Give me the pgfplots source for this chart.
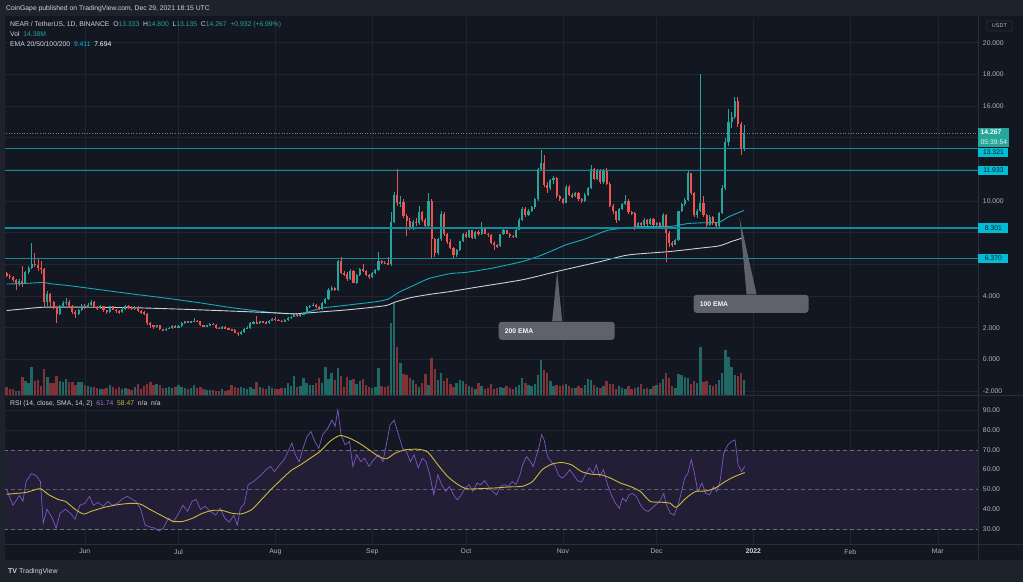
\documentclass[border=0pt]{standalone}
\usepackage{pgfplots}
\pgfplotsset{compat=1.18}
\usepackage{pgfplotstable}
\usepackage{fontspec}
\setmainfont{Liberation Sans}
\definecolor{outer}{RGB}{30,34,45}
\definecolor{pane}{RGB}{19,23,34}
\definecolor{gridc}{RGB}{33,37,48}
\definecolor{sepc}{RGB}{42,46,57}
\definecolor{txt}{RGB}{178,181,190}
\definecolor{lbl}{RGB}{209,212,220}
\definecolor{up}{RGB}{38,166,154}
\definecolor{dn}{RGB}{239,83,80}
\definecolor{vup}{RGB}{32,104,99}
\definecolor{vdn}{RGB}{128,50,54}
\definecolor{lvl}{RGB}{16,140,156}
\definecolor{lvlbox}{RGB}{0,188,212}
\definecolor{emaA}{RGB}{20,170,186}
\definecolor{emaB}{RGB}{205,208,215}
\definecolor{rsic}{RGB}{126,87,194}
\definecolor{smac}{RGB}{205,185,60}
\definecolor{band}{RGB}{34,30,54}
\definecolor{dashc}{RGB}{106,109,120}
\definecolor{callout}{RGB}{100,103,114}
\newcommand{\f}{\fontsize{6.8}{8}\selectfont}

\pgfplotstableread{
i O H L C V
0 5.45 5.55 5.20 5.30 8
1 5.30 5.40 5.10 5.20 6
2 5.20 5.25 4.90 5.00 6
3 5.00 5.10 4.40 4.75 4
4 4.75 5.05 4.65 4.95 4
5 4.95 5.90 4.60 4.80 18
6 4.80 5.60 4.75 5.50 14
7 5.50 5.90 5.40 5.75 12
8 5.75 7.35 5.70 6.05 28
9 6.05 6.70 5.85 5.95 14
10 5.95 6.40 5.60 5.80 15
11 5.80 6.20 5.40 5.70 9
12 5.70 5.75 3.30 3.60 26
13 3.60 4.30 3.40 4.15 18
14 4.15 4.20 3.30 3.60 12
15 3.60 3.70 3.20 3.30 12
16 3.30 3.40 2.30 2.90 19
17 2.90 3.45 2.80 3.35 14
18 3.35 3.70 3.25 3.55 13
19 3.55 3.90 3.45 3.65 16
20 3.65 3.75 3.30 3.40 13
21 3.40 3.45 2.90 3.00 13
22 3.00 3.10 2.60 2.85 10
23 2.85 3.20 2.80 3.10 13
24 3.10 3.50 3.05 3.40 13
25 3.40 3.50 3.20 3.35 10
26 3.35 3.55 3.25 3.45 9
27 3.45 3.75 3.40 3.65 8
28 3.65 3.70 3.25 3.30 8
29 3.30 3.40 3.15 3.25 7
30 3.25 3.45 3.20 3.35 6
31 3.35 3.40 3.00 3.10 6
32 3.10 3.15 2.85 3.00 7
33 3.00 3.40 2.95 3.35 10
34 3.35 3.40 3.10 3.15 8
35 3.15 3.20 2.95 3.05 6
36 3.05 3.10 2.90 3.00 8
37 3.00 3.30 2.95 3.20 6
38 3.20 3.45 3.15 3.35 7
39 3.35 3.45 3.20 3.30 6
40 3.30 3.35 3.10 3.20 5
41 3.20 3.35 3.10 3.30 8
42 3.30 3.35 3.00 3.05 11
43 3.05 3.10 2.90 3.00 6
44 3.00 3.05 2.80 2.90 9
45 2.90 2.95 2.20 2.30 11
46 2.30 2.35 2.00 2.15 13
47 2.15 2.20 1.95 2.05 10
48 2.05 2.20 2.00 2.15 11
49 2.15 2.20 1.85 1.90 10
50 1.90 1.95 1.80 1.85 7
51 1.85 2.00 1.80 1.95 7
52 1.95 2.05 1.90 2.00 8
53 2.00 2.15 1.95 2.10 7
54 2.10 2.15 2.00 2.05 8
55 2.05 2.15 2.00 2.10 10
56 2.10 2.35 2.05 2.30 8
57 2.30 2.45 2.25 2.40 7
58 2.40 2.45 2.30 2.35 6
59 2.35 2.45 2.30 2.40 7
60 2.40 2.60 2.35 2.45 10
61 2.45 2.50 2.35 2.40 7
62 2.40 2.45 2.10 2.15 8
63 2.15 2.20 2.05 2.10 6
64 2.10 2.20 2.05 2.15 5
65 2.15 2.30 2.10 2.25 5
66 2.25 2.30 2.15 2.20 5
67 2.20 2.25 1.95 2.00 4
68 2.00 2.05 1.90 1.95 4
69 1.95 2.10 1.90 2.05 6
70 2.05 2.10 1.90 1.95 4
71 1.95 2.00 1.85 1.90 5
72 1.90 1.95 1.80 1.85 10
73 1.85 1.90 1.65 1.70 8
74 1.70 1.75 1.50 1.60 7
75 1.60 1.80 1.55 1.75 8
76 1.75 2.00 1.70 1.95 7
77 1.95 2.10 1.90 2.00 6
78 2.00 2.35 1.95 2.30 8
79 2.30 2.40 2.25 2.35 6
80 2.35 2.75 2.25 2.30 13
81 2.30 2.45 2.25 2.40 8
82 2.40 2.45 2.30 2.35 7
83 2.35 2.40 2.25 2.30 6
84 2.30 2.50 2.25 2.45 9
85 2.45 2.60 2.40 2.55 7
86 2.55 2.65 2.45 2.50 6
87 2.50 2.55 2.40 2.45 6
88 2.45 2.50 2.35 2.40 7
89 2.40 2.55 2.35 2.50 7
90 2.50 2.65 2.45 2.60 12
91 2.60 2.75 2.55 2.70 9
92 2.70 2.95 2.65 2.90 19
93 2.90 2.95 2.70 2.75 8
94 2.75 2.90 2.70 2.85 9
95 2.85 3.00 2.80 2.95 17
96 2.95 3.35 2.90 3.30 12
97 3.30 3.45 3.25 3.40 10
98 3.40 3.55 3.35 3.45 10
99 3.45 3.50 3.25 3.30 12
100 3.30 3.35 3.10 3.20 17
101 3.20 3.60 3.15 3.55 12
102 3.55 3.90 3.50 3.80 28
103 3.80 4.50 3.75 4.40 16
104 4.40 4.65 4.30 4.50 22
105 4.50 4.60 4.30 4.40 15
106 4.40 6.30 4.35 6.20 27
107 6.20 6.50 5.40 5.45 19
108 5.45 5.60 5.30 5.40 8
109 5.40 5.50 4.95 5.05 18
110 5.05 5.70 5.00 5.60 15
111 5.60 5.65 4.80 4.85 16
112 4.85 5.40 4.75 5.35 11
113 5.35 5.80 5.30 5.70 14
114 5.70 6.00 5.50 5.60 16
115 5.60 5.65 5.30 5.35 10
116 5.35 5.40 5.10 5.20 8
117 5.20 5.50 5.15 5.45 7
118 5.45 5.70 5.40 5.65 8
119 5.65 6.80 5.60 6.20 27
120 6.20 6.30 6.00 6.10 9
121 6.10 6.20 6.00 6.05 8
122 6.08 6.45 5.95 6.03 9
123 6.03 9.30 5.90 8.70 72
124 8.70 10.60 8.60 10.40 92
125 10.40 12.00 9.70 9.85 48
126 9.85 10.30 9.60 9.95 32
127 9.95 10.10 8.90 9.05 21
128 9.05 9.20 7.80 8.75 20
129 8.75 8.90 8.20 8.35 17
130 8.35 8.80 8.20 8.70 15
131 8.70 8.90 8.40 8.60 11
132 8.60 9.70 8.50 9.30 8
133 9.30 9.40 8.70 8.80 12
134 8.80 8.90 8.30 8.40 21
135 8.40 10.50 8.30 10.00 10
136 10.00 10.10 6.40 7.60 37
137 7.60 7.70 6.50 6.75 26
138 6.75 7.70 6.60 7.60 15
139 7.60 9.40 7.50 9.20 22
140 9.20 9.30 7.80 7.90 14
141 7.90 8.00 7.30 7.40 17
142 7.40 7.60 6.95 7.05 11
143 7.05 7.10 6.35 6.60 8
144 6.60 7.00 6.50 6.90 12
145 6.90 7.50 6.85 7.45 15
146 7.45 8.00 7.40 7.95 14
147 7.95 8.05 7.70 7.75 11
148 7.75 8.20 7.70 8.15 9
149 8.15 8.20 7.60 7.65 8
150 7.65 8.10 7.60 8.05 6
151 8.05 8.15 7.80 7.90 12
152 7.90 8.70 7.85 8.30 9
153 8.30 8.35 7.90 7.95 6
154 7.95 8.00 7.75 7.85 7
155 7.85 7.90 7.30 7.35 11
156 7.35 7.45 6.90 7.20 6
157 7.20 7.30 7.05 7.15 7
158 7.15 7.95 7.10 7.90 8
159 7.90 8.25 7.85 8.15 7
160 8.15 8.20 7.90 7.95 9
161 7.95 8.00 7.70 7.80 7
162 7.80 7.85 7.65 7.75 6
163 7.75 8.25 7.70 8.20 8
164 8.20 8.90 8.15 8.80 10
165 8.80 9.60 8.75 9.50 17
166 9.50 9.60 9.00 9.10 12
167 9.10 9.50 9.05 9.40 10
168 9.40 9.70 9.30 9.60 9
169 9.60 10.20 9.50 10.10 11
170 10.10 12.10 10.00 12.00 20
171 12.00 13.20 11.90 12.40 35
172 12.40 12.90 10.90 11.00 25
173 11.00 11.20 10.50 10.80 22
174 10.80 11.40 10.70 11.30 14
175 11.30 11.60 11.10 11.45 9
176 11.45 11.50 10.20 10.30 10
177 10.30 10.40 10.00 10.10 9
178 10.10 10.20 9.80 9.90 10
179 9.90 11.00 9.85 10.90 11
180 10.90 11.00 10.30 10.40 9
181 10.40 10.50 10.20 10.30 7
182 10.30 10.60 10.25 10.50 7
183 10.50 10.60 10.00 10.10 9
184 10.10 10.20 9.90 10.00 7
185 10.00 10.50 9.95 10.40 10
186 10.40 10.90 10.35 10.80 16
187 10.80 12.30 10.75 12.00 15
188 12.00 12.10 11.30 11.40 10
189 11.40 12.00 11.30 11.90 8
190 11.90 12.00 11.10 11.20 7
191 11.20 12.00 11.10 11.90 9
192 11.90 12.10 11.00 11.10 14
193 11.10 11.20 9.60 9.70 11
194 9.70 9.80 9.20 9.35 11
195 9.35 9.40 8.60 8.80 6
196 8.80 9.55 8.75 9.50 9
197 9.50 9.90 9.45 9.80 7
198 9.80 10.40 9.75 10.00 6
199 10.00 10.10 9.20 9.30 9
200 9.30 9.40 9.10 9.25 6
201 9.25 9.30 8.20 8.30 7
202 8.30 8.65 8.25 8.60 8
203 8.60 8.70 8.40 8.50 11
204 8.50 8.90 8.45 8.80 6
205 8.80 8.85 8.45 8.55 7
206 8.55 8.90 8.50 8.85 6
207 8.85 8.90 8.45 8.50 9
208 8.50 8.70 8.30 8.60 10
209 8.60 8.70 8.30 8.45 12
210 8.45 9.25 8.40 9.15 16
211 9.15 9.20 6.15 8.00 22
212 8.00 8.10 7.10 7.35 17
213 7.35 7.50 7.10 7.25 9
214 7.25 7.60 7.20 7.55 7
215 7.55 9.40 7.50 9.35 21
216 9.35 9.90 9.30 9.80 20
217 9.80 10.20 9.70 10.05 18
218 10.05 11.90 10.00 11.75 17
219 11.75 11.80 10.40 10.50 11
220 10.50 10.60 9.00 9.10 14
221 9.10 9.50 8.95 9.35 12
222 9.35 18.05 9.30 9.85 48
223 9.85 10.30 9.00 9.10 13
224 9.10 9.20 8.35 8.50 14
225 8.50 9.10 8.45 9.00 10
226 9.00 9.05 8.50 8.60 9
227 8.60 8.70 8.30 8.40 11
228 8.40 9.30 8.35 9.25 15
229 9.25 11.00 9.20 10.80 22
230 10.80 14.00 10.70 13.70 45
231 13.70 15.80 13.50 15.00 38
232 15.00 15.60 14.60 15.30 28
233 15.30 16.60 15.20 16.30 20
234 16.30 16.55 14.70 14.85 19
235 14.85 15.00 12.90 13.333 22
236 13.333 14.80 13.135 14.267 15
}\candles

\begin{document}
\begin{tikzpicture}[x=1pt,y=1pt]
\fill[outer] (0pt,0pt) rectangle (1024pt,582pt);
\fill[pane] (5pt,22pt) rectangle (1024pt,566pt);

\pgfplotsset{
  tvaxis/.style={
    scale only axis, anchor=south west, width=974pt,
    xmin=-0.54, xmax=311.0,
    axis line style={draw=none}, major tick length=0pt,
    xtick={25,55,86,117,147,178,208,239,270,298},
    grid=major, grid style={gridc, line width=0.6pt},
    yticklabel pos=right,
    yticklabel style={font=\f, text=txt, anchor=west, xshift=1pt},
    xticklabel style={font=\f, text=txt},
    /pgf/number format/assume math mode=true,
  },
  candle/.style 2 args={draw=none, mark=none,
    error bars/.cd, y dir=both, y explicit, error mark=none,
    error bar style={line width=#1, draw=#2, solid}},
}

% ---------- main price pane ----------
\begin{axis}[tvaxis, at={(5pt,187pt)}, height=377pt,
  ymin=-2.23, ymax=21.56,
  ytick={-2,0,2,4,6,8,10,12,14,16,18,20},
  yticklabels={-2.000,0.000,2.000,4.000,,,10.000,,,16.000,18.000,20.000},
  xticklabels={}]
% volume
\addplot[candle={2.4pt}{vup}] table[x=i,
  y expr={\thisrow{C}>=\thisrow{O} ? -2.23+\thisrow{V}/31.7 : nan},
  y error expr={\thisrow{V}/31.7}] {\candles};
\addplot[candle={2.4pt}{vdn}] table[x=i,
  y expr={\thisrow{C}<\thisrow{O} ? -2.23+\thisrow{V}/31.7 : nan},
  y error expr={\thisrow{V}/31.7}] {\candles};
% EMA lines
\addplot[emaA, line width=0.9pt, smooth, tension=0.4] coordinates {
(0,4.76) (6,4.80) (11.6,4.86) (14,4.78) (20,4.66) (30,4.40) (40,4.14) (51,3.87) (62,3.57) (72,3.27) (80,3.07) (86,2.94) (91,2.90) (95,2.92) (101,3.25) (106,3.36) (112,3.50) (118,3.64) (122,3.80) (124,4.05) (126,4.29) (130,4.65) (135,5.10) (142,5.42) (147,5.50) (155,5.75) (165,6.18) (170,6.50) (175,6.90) (179,7.24) (185,7.60) (190,7.99) (193,8.18) (198,8.30) (203,8.39) (212,8.39) (218,8.58) (223,8.63) (228,8.67) (231,9.00) (234,9.25) (236,9.41)};
\addplot[emaB, line width=0.9pt, smooth, tension=0.4] coordinates {
(0,3.09) (6,3.20) (12,3.30) (25,3.30) (40,3.27) (55,3.18) (70,3.07) (86,2.94) (92,2.88) (101,3.01) (110,3.15) (121,3.39) (124,3.60) (129,3.89) (135,4.10) (142,4.29) (150,4.55) (165,5.03) (176,5.55) (190,6.18) (199,6.60) (212,6.81) (222,7.03) (228,7.17) (232,7.45) (236,7.70)};
% wicks
\addplot[candle={0.7pt}{up}] table[x=i,
  y expr={\thisrow{C}>=\thisrow{O} ? (\thisrow{H}+\thisrow{L})/2 : nan},
  y error expr={(\thisrow{H}-\thisrow{L})/2}] {\candles};
\addplot[candle={0.7pt}{dn}] table[x=i,
  y expr={\thisrow{C}<\thisrow{O} ? (\thisrow{H}+\thisrow{L})/2 : nan},
  y error expr={(\thisrow{H}-\thisrow{L})/2}] {\candles};
% bodies
\addplot[candle={2.1pt}{up}] table[x=i,
  y expr={\thisrow{C}>=\thisrow{O} ? (\thisrow{O}+\thisrow{C})/2 : nan},
  y error expr={max(abs(\thisrow{C}-\thisrow{O})/2,0.03)}] {\candles};
\addplot[candle={2.1pt}{dn}] table[x=i,
  y expr={\thisrow{C}<\thisrow{O} ? (\thisrow{O}+\thisrow{C})/2 : nan},
  y error expr={max(abs(\thisrow{C}-\thisrow{O})/2,0.03)}] {\candles};
% horizontal levels
\addplot[lvl, line width=1.1pt] coordinates {(-1,13.321) (312,13.321)};
\addplot[lvl, line width=1.1pt] coordinates {(-1,11.933) (312,11.933)};
\addplot[lvl, line width=1.1pt] coordinates {(-1,8.301) (312,8.301)};
\addplot[lvl, line width=1.1pt] coordinates {(-1,6.370) (312,6.370)};
\addplot[up!70!gray, line width=0.6pt, dotted] coordinates {(-1,14.267) (312,14.267)};
\end{axis}

% ---------- RSI pane ----------
\begin{axis}[tvaxis, at={(5pt,37pt)}, height=148pt,
  ymin=22.13, ymax=96.77,
  ytick={30,40,50,60,70,80,90},
  yticklabels={30.00,40.00,50.00,60.00,70.00,80.00,90.00},
  xticklabels={Jun,Jul,Aug,Sep,Oct,Nov,Dec,\textcolor{lbl}{\textbf{2022}},Feb,Mar},
  xticklabel style={yshift=-1pt}]
\fill[band] (axis cs:-1,30) rectangle (axis cs:312,70);
\addplot[dashc, line width=0.6pt, dash pattern=on 4pt off 3pt] coordinates {(-1,70) (312,70)};
\addplot[dashc!85!pane, line width=0.6pt, dash pattern=on 4pt off 3pt] coordinates {(-1,50) (312,50)};
\addplot[dashc, line width=0.6pt, dash pattern=on 4pt off 3pt] coordinates {(-1,30) (312,30)};
\addplot[rsic, line width=0.7pt] coordinates {
(0,50) (2.0,42) (4.1,47) (5.2,44) (6.2,54) (7.9,58) (9.4,57) (10.8,54) (11.7,33) (12.9,40) (14.6,35.5) (15.8,30.5) (17.1,38) (18.8,40) (20.4,38) (21.9,35) (23.4,42) (25.0,43) (26.5,46.5) (27.8,42) (29.2,43.5) (30.9,41.5) (32.4,44) (33.8,42) (35.5,43) (37.2,45.5) (38.6,46.5) (39.7,45.5) (41.3,44) (42.8,40.5) (44.3,32) (46.0,31) (47.4,30.5) (48.7,29) (50.1,30.5) (51.8,35.5) (53.3,33.5) (54.7,37) (56.4,42) (57.9,39) (59.3,44) (60.6,45) (62.0,40) (63.5,41.5) (65.2,39) (66.9,37) (68.3,40.5) (69.8,35.5) (71.2,33.5) (72.7,37) (73.8,32) (74.8,40.5) (76.1,43) (77.3,52.5) (78.8,53.7) (80.2,55.7) (81.5,57.4) (83.0,60) (84.4,61.6) (85.7,59) (87.3,62.4) (88.8,65) (89.8,68.3) (91.3,73.4) (92.4,67.5) (93.6,64) (94.7,70) (96.1,76.7) (97.4,79.2) (98.6,74.2) (99.9,70.8) (101.1,77.6) (102.8,80.9) (104.1,85) (105.1,81.8) (106.0,90.2) (107.0,77.6) (108.3,72.5) (109.7,74.2) (110.8,61.6) (112.0,67.5) (113.3,64) (114.5,65.8) (116.0,61.6) (117.4,65) (119.1,67.5) (120.4,64) (121.6,73.4) (122.7,82.6) (124.0,85) (125.4,77.6) (126.7,70.8) (127.9,69.2) (129.2,64) (130.4,67.5) (131.7,60.8) (133.0,65.8) (134.2,64) (135.4,57.4) (136.7,47.3) (138.0,57.4) (139.2,52.4) (140.5,49) (141.7,51.5) (143.0,47.3) (144.2,44.8) (145.5,47.3) (146.7,50.7) (148.0,52.4) (149.2,49) (150.5,53.2) (151.7,52.4) (153.0,54.4) (154.2,51.5) (155.5,49) (156.8,47.3) (158.0,51.5) (159.3,52.4) (160.5,51.5) (161.8,54) (163.0,52.4) (164.3,57.4) (165.1,62.4) (166.4,66.6) (167.2,65) (168.5,61.6) (169.3,65.8) (170.4,71.7) (171.2,77.6) (172.0,75) (173.1,66.6) (174.3,64) (175.6,61.6) (176.6,57.4) (177.7,55.7) (179.0,57.4) (180.2,60) (181.4,57.4) (182.7,54.4) (184.0,53.7) (185.2,57.4) (186.4,60.8) (187.7,58.2) (188.7,62.4) (189.8,56.6) (191.0,60) (192.3,52.4) (193.5,47.3) (194.8,43.1) (196.1,40.5) (197.1,45.6) (198.2,44) (199.2,47.3) (200.2,48) (201.5,46.5) (202.8,42.3) (204.0,39.8) (205.3,38.9) (206.5,40.5) (207.8,42.3) (209.0,44) (210.3,48) (211.1,42.3) (212.4,38) (213.6,37) (214.9,42.3) (216.0,49) (217.0,55.7) (218.0,58.2) (219.1,65) (220.0,59) (221.2,49) (222.5,53.2) (223.7,48) (225.0,47.3) (226.2,51.5) (227.2,49) (228.3,54) (229.5,68.3) (230.8,72.5) (232.0,74.2) (233.1,75) (234.1,62.4) (235.2,59) (236.2,61.7)};
\addplot[smac, line width=0.9pt, smooth, tension=0.4] coordinates {
(0,47.6) (3.1,48) (6.2,48.5) (9.4,50) (11.0,50.3) (13.5,47.3) (16.7,44.8) (18.8,44) (21.9,40) (24.6,37.6) (27.1,39) (31.3,41) (35.5,42.3) (39.7,43) (42.8,42.6) (46.0,39.8) (50.1,36.4) (53.3,33.9) (56.4,33.9) (59.5,35.5) (62.7,38) (65.8,39.4) (69.0,39.4) (72.1,38) (75.2,37.7) (78.4,39.8) (81.5,44.8) (84.6,50) (87.8,54.9) (90.9,59.4) (94.0,62.4) (97.2,65.8) (100.3,69.2) (103.4,74.2) (106.6,77.2) (109.7,75.9) (112.8,73.4) (116.0,70) (119.1,66.6) (121.6,65.5) (124.3,68.3) (127.5,70) (131.7,70.3) (134.8,68.8) (138.0,62.4) (141.1,56.6) (144.2,52.7) (147.3,50.3) (152.6,50.5) (156.8,50.8) (161.0,51.3) (165.1,51.6) (168.3,54) (171.4,60) (174.5,62.8) (177.7,63.6) (180.8,62.4) (184.0,59) (187.1,57.7) (190.2,57.4) (193.3,55.7) (196.5,53.2) (199.6,51.5) (202.8,49) (205.9,44) (209.0,43.6) (212.2,43.1) (214.3,41) (217.4,45.6) (220.5,49) (223.7,49.2) (226.8,50.7) (229.9,54) (233.1,56.6) (236.2,58.5)};
\end{axis}

% ---------- separators ----------
\draw[sepc, line width=0.8pt] (979pt,22pt) -- (979pt,566pt);
\draw[sepc, line width=1.2pt] (5pt,186pt) -- (1024pt,186pt);
\draw[sepc, line width=0.8pt] (5pt,37pt) -- (1024pt,37pt);

% ---------- price-axis labels ----------
\fill[up] (979pt,435pt) rectangle (1010pt,454pt);
\node[font=\f, text=white, anchor=west, inner sep=0pt] at (981pt,449.5pt) {\textbf{14.267}};
\node[font=\f, text=white!85!up, anchor=west, inner sep=0pt] at (981pt,439.5pt) {05:39:54};
\foreach \yy/\lab in {429.5/13.321, 411.4/11.933, 353.9/8.301, 323.3/6.370}{
  \fill[lvlbox] (979pt,\yy pt-4.8pt) rectangle (1009pt,\yy pt+4.8pt);
  \node[font=\f, text=pane, anchor=center, inner sep=0pt] at (994pt,\yy pt) {\lab};
}
\draw[sepc, rounded corners=1.5pt, line width=0.6pt] (987pt,551pt) rectangle (1013pt,561pt);
\node[font=\fontsize{5.5}{6}\selectfont, text=txt, inner sep=0pt] at (1000pt,556pt) {USDT};

% ---------- callouts ----------
\fill[callout, opacity=0.95, rounded corners=3pt] (499pt,242pt) rectangle (615pt,260pt);
\fill[callout, opacity=0.95] (552.5pt,260.5pt) -- (557.5pt,310pt) -- (562.5pt,260.5pt) -- cycle;
\node[font=\f\bfseries, text=white!92!gray, anchor=west, inner sep=0pt] at (505pt,251pt) {200 EMA};
\fill[callout, opacity=0.95, rounded corners=3pt] (694pt,269pt) rectangle (809pt,287pt);
\fill[callout, opacity=0.95] (747pt,287.5pt) -- (740pt,364pt) -- (757pt,287.5pt) -- cycle;
\node[font=\f\bfseries, text=white!92!gray, anchor=west, inner sep=0pt] at (700pt,278pt) {100 EMA};

% ---------- header texts ----------
\node[font=\f, text=lbl, anchor=west, inner sep=0pt] at (6pt,573pt) {CoinGape published on TradingView.com, Dec 29, 2021 18:15 UTC};
\node[font=\f, text=lbl, anchor=west, inner sep=0pt] at (10pt,557pt) {NEAR / TetherUS, 1D, BINANCE\ \ O\textcolor{up}{13.333}\ \ H\textcolor{up}{14.800}\ \ L\textcolor{up}{13.135}\ \ C\textcolor{up}{14.267}\ \ \textcolor{up}{+0.932 (+6.99\%)}};
\node[font=\f, text=lbl, anchor=west, inner sep=0pt] at (10pt,548pt) {Vol\ \ \textcolor{up}{14.38M}};
\node[font=\f, text=lbl, anchor=west, inner sep=0pt] at (10pt,538pt) {EMA 20/50/100/200\ \ \textcolor{lvlbox}{9.411}\ \ \textcolor{white}{7.694}};
\node[font=\f, text=lbl, anchor=west, inner sep=0pt] at (10pt,178pt) {RSI (14, close, SMA, 14, 2)\ \ \textcolor{rsic!80!white}{61.74}\ \ \textcolor{smac}{58.47}\ \ n/a\ \ n/a};
\node[font=\fontsize{7}{8}\selectfont, text=lbl, anchor=west, inner sep=0pt] at (8pt,10pt) {\textbf{TV}\ TradingView};
\end{tikzpicture}
\end{document}
